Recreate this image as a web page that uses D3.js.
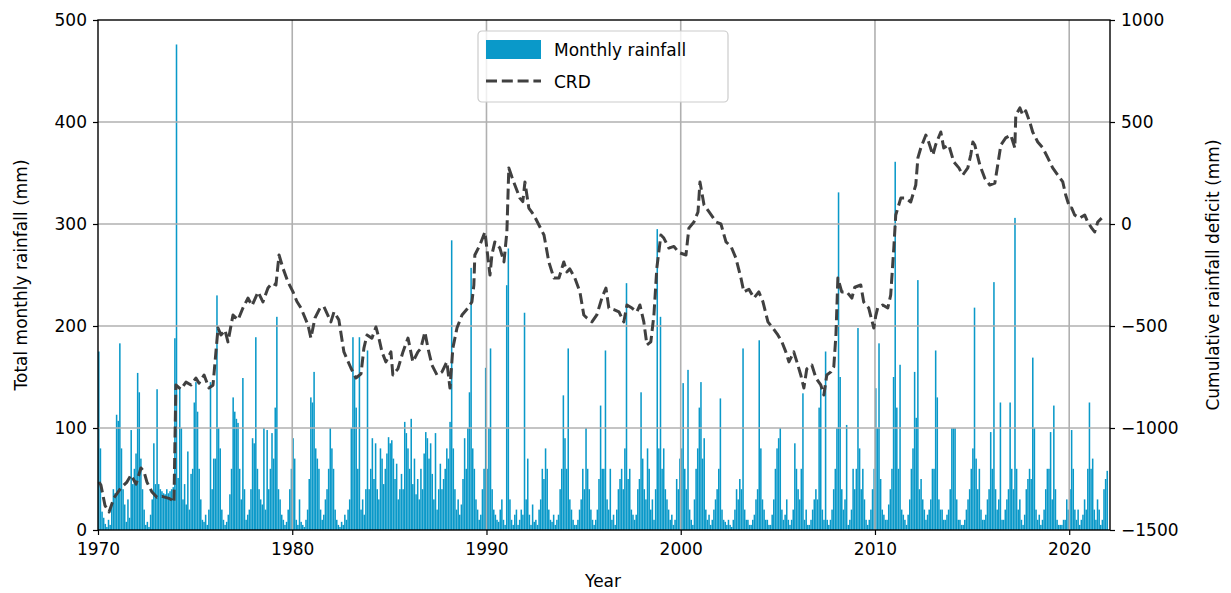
<!DOCTYPE html>
<html>
<head>
    <meta charset="utf-8">
    <title>Monthly rainfall and CRD</title>
    <script src="https://cdn.jsdelivr.net/npm/d3@7/dist/d3.min.js"></script>
    <style>
        body { margin: 0; background: #fff; }
        text { font-family: "DejaVu Sans", sans-serif; }
    </style>
</head>
<body>
<div id="chart"></div>
<script type="text/javascript">
    // first year of the monthly series (Jan 1970 .. Dec 2021)
    var startYear = 1970;

    // monthly rainfall (mm), one row per year, Jan..Dec
    var rainfall = [
        175, 80, 18, 12, 6, 3, 10, 5, 25, 40, 36, 113,      // 1970
        107, 183, 80, 40, 25, 8, 30, 12, 98, 45, 60, 75,    // 1971
        154, 135, 70, 40, 20, 5, 8, 3, 15, 30, 85, 45,      // 1972
        138, 45, 40, 38, 36, 35, 40, 36, 38, 40, 42, 188,   // 1973
        476, 51, 139, 100, 30, 45, 25, 77, 20, 55, 60, 125, // 1974
        145, 116, 60, 30, 10, 8, 15, 5, 20, 145, 40, 70,    // 1975
        70, 230, 100, 80, 20, 10, 5, 8, 15, 35, 60, 130,    // 1976
        116, 109, 105, 60, 30, 149, 40, 10, 15, 20, 40, 90, // 1977
        85, 189, 60, 40, 30, 25, 100, 20, 98, 40, 60, 95,   // 1978
        70, 120, 209, 40, 30, 15, 10, 5, 8, 20, 40, 60,     // 1979
        90, 70, 10, 5, 30, 8, 5, 3, 10, 20, 50, 130,        // 1980
        125, 155, 80, 70, 60, 20, 10, 15, 30, 40, 60, 100,  // 1981
        80, 60, 20, 10, 5, 3, 8, 5, 15, 10, 20, 30,         // 1982
        100, 189, 150, 120, 60, 189, 20, 30, 15, 40, 176, 40, // 1983
        60, 90, 50, 85, 40, 30, 80, 70, 45, 60, 75, 91,     // 1984
        85, 88, 70, 50, 65, 30, 40, 55, 40, 106, 95, 80,    // 1985
        60, 109, 45, 70, 35, 50, 30, 60, 40, 75, 96, 90,    // 1986
        70, 85, 55, 30, 95, 20, 40, 65, 40, 50, 60, 80,     // 1987
        70, 106, 284, 80, 40, 20, 30, 15, 25, 50, 90, 60,   // 1988
        100, 135, 257, 80, 60, 30, 20, 10, 15, 40, 60, 159, // 1989
        60, 100, 178, 40, 20, 15, 10, 8, 20, 30, 10, 5,     // 1990
        240, 276, 30, 10, 5, 15, 20, 5, 10, 20, 15, 213,    // 1991
        30, 70, 15, 5, 25, 8, 10, 5, 20, 30, 60, 50,        // 1992
        80, 60, 20, 10, 8, 15, 5, 10, 15, 40, 60, 132,      // 1993
        90, 60, 178, 30, 20, 10, 5, 5, 10, 20, 30, 60,      // 1994
        40, 100, 60, 40, 20, 10, 5, 10, 20, 50, 122, 60,    // 1995
        60, 176, 30, 20, 60, 10, 15, 5, 20, 40, 50, 60,     // 1996
        40, 80, 242, 50, 60, 20, 15, 10, 15, 40, 50, 135,   // 1997
        70, 40, 30, 80, 60, 20, 30, 10, 40, 295, 80, 209,   // 1998
        60, 80, 40, 30, 20, 10, 15, 5, 10, 50, 40, 70,      // 1999
        80, 144, 60, 40, 157, 20, 10, 5, 30, 60, 80, 120,   // 2000
        145, 70, 90, 20, 10, 15, 5, 10, 20, 30, 40, 60,     // 2001
        129, 20, 10, 8, 5, 10, 5, 3, 10, 20, 40, 30,        // 2002
        50, 40, 178, 20, 10, 10, 5, 5, 10, 15, 30, 40,      // 2003
        186, 80, 30, 20, 10, 10, 5, 5, 15, 30, 60, 80,      // 2004
        90, 100, 20, 10, 15, 30, 10, 5, 10, 20, 85, 60,     // 2005
        40, 30, 60, 134, 10, 20, 5, 5, 10, 20, 30, 40,      // 2006
        30, 120, 139, 20, 10, 175, 10, 5, 10, 20, 40, 60,   // 2007
        100, 331, 150, 40, 20, 30, 103, 5, 10, 20, 60, 40,  // 2008
        60, 198, 80, 40, 60, 30, 10, 5, 10, 20, 40, 60,     // 2009
        139, 100, 183, 50, 20, 15, 10, 10, 25, 40, 60, 150, // 2010
        361, 120, 60, 162, 20, 15, 10, 5, 15, 30, 60, 80,   // 2011
        155, 110, 245, 40, 50, 30, 20, 10, 15, 20, 30, 60,  // 2012
        60, 176, 130, 30, 20, 20, 10, 10, 15, 20, 40, 100,  // 2013
        100, 100, 30, 10, 10, 5, 5, 10, 20, 30, 40, 60,     // 2014
        80, 218, 70, 40, 60, 20, 10, 10, 15, 30, 40, 96,    // 2015
        60, 243, 40, 20, 30, 125, 10, 10, 20, 30, 40, 125,  // 2016
        60, 40, 306, 60, 20, 30, 10, 5, 15, 40, 50, 60,     // 2017
        50, 169, 100, 20, 10, 15, 5, 10, 20, 40, 60, 60,    // 2018
        96, 30, 122, 40, 10, 5, 5, 5, 10, 10, 30, 20,       // 2019
        40, 98, 60, 20, 10, 20, 5, 10, 15, 30, 20, 60,      // 2020
        125, 60, 70, 20, 10, 30, 20, 5, 10, 40, 50, 58      // 2021
    ];

    // cumulative rainfall deficit (mm)
    var crdYear = [
        1970.05, 1970.15, 1970.36, 1970.57, 1970.82, 1971.18, 1971.49, 1971.70, 1971.96, 1972.21,
        1972.37, 1972.52, 1972.78, 1973.04, 1973.29, 1973.65, 1973.81, 1973.91, 1974.01, 1974.27,
        1974.53, 1974.79, 1975.04, 1975.20, 1975.46, 1975.71, 1975.92, 1976.18, 1976.33, 1976.54,
        1976.69, 1976.95, 1977.21, 1977.46, 1977.72, 1977.93, 1978.24, 1978.49, 1978.75, 1978.96,
        1979.16, 1979.32, 1979.52, 1979.78, 1980.04, 1980.24, 1980.45, 1980.81, 1980.96, 1981.17,
        1981.43, 1981.63, 1981.99, 1982.15, 1982.40, 1982.66, 1983.02, 1983.28, 1983.54, 1983.69,
        1983.85, 1984.10, 1984.31, 1984.46, 1984.62, 1984.82, 1985.08, 1985.18, 1985.44, 1985.70,
        1985.96, 1986.21, 1986.47, 1986.62, 1986.83, 1986.99, 1987.19, 1987.45, 1987.71, 1987.96,
        1988.12, 1988.27, 1988.48, 1988.74, 1989.04, 1989.25, 1989.35, 1989.40, 1989.66, 1989.92,
        1990.18, 1990.28, 1990.43, 1990.69, 1990.90, 1991.05, 1991.15, 1991.31, 1991.46, 1991.72,
        1991.87, 1991.98, 1992.18, 1992.44, 1992.70, 1992.96, 1993.21, 1993.47, 1993.73, 1993.98,
        1994.14, 1994.29, 1994.55, 1994.81, 1995.01, 1995.17, 1995.43, 1995.68, 1995.94, 1996.15,
        1996.30, 1996.56, 1996.82, 1997.07, 1997.23, 1997.49, 1997.74, 1997.90, 1998.10, 1998.26,
        1998.46, 1998.62, 1998.77, 1998.98, 1999.13, 1999.39, 1999.65, 1999.91, 2000.27, 2000.42,
        2000.68, 2000.89, 2000.99, 2001.20, 2001.46, 2001.82, 2002.07, 2002.33, 2002.59, 2002.84,
        2003.10, 2003.25, 2003.51, 2003.77, 2004.02, 2004.23, 2004.49, 2004.74, 2005.00, 2005.21,
        2005.41, 2005.57, 2005.82, 2005.98, 2006.18, 2006.34, 2006.49, 2006.75, 2006.96, 2007.21,
        2007.37, 2007.52, 2007.73, 2007.88, 2007.99, 2008.09, 2008.29, 2008.55, 2008.81, 2008.96,
        2009.27, 2009.42, 2009.68, 2009.94, 2010.04, 2010.14, 2010.40, 2010.66, 2010.81, 2010.97,
        2011.07, 2011.33, 2011.59, 2011.84, 2012.10, 2012.21, 2012.36, 2012.62, 2012.77, 2012.98,
        2013.13, 2013.39, 2013.54, 2013.80, 2014.06, 2014.32, 2014.52, 2014.78, 2014.93, 2015.04,
        2015.14, 2015.40, 2015.65, 2015.91, 2016.17, 2016.32, 2016.48, 2016.73, 2016.99, 2017.20,
        2017.25, 2017.46, 2017.61, 2017.76, 2017.97, 2018.12, 2018.38, 2018.64, 2018.90, 2019.15,
        2019.41, 2019.67, 2019.82, 2020.03, 2020.13, 2020.28, 2020.54, 2020.80, 2020.95, 2021.16,
        2021.31, 2021.47, 2021.67
    ];
    var crdValue = [
        -1265, -1280, -1380, -1412, -1343, -1294, -1265, -1230, -1275, -1196,
        -1215, -1265, -1314, -1340, -1335, -1345, -1353, -1365, -789, -810,
        -775, -789, -755, -780, -740, -804, -790, -510, -544, -520,
        -578, -446, -470, -412, -363, -400, -333, -382, -314, -290,
        -299, -152, -216, -284, -333, -380, -412, -495, -559, -461,
        -412, -405, -480, -431, -470, -627, -706, -755, -735, -608,
        -544, -560, -505, -559, -627, -676, -627, -740, -710, -627,
        -559, -676, -627, -610, -529, -610, -691, -740, -725, -676,
        -804, -608, -510, -446, -412, -382, -300, -152, -103, -39,
        -250, -150, -88, -118, -186, -39, 275, 230, 191, 127,
        110, 206, 78, 44, -5, -54, -186, -265, -265, -186,
        -235, -220, -265, -333, -446, -461, -480, -446, -363, -314,
        -412, -420, -431, -480, -397, -412, -431, -397, -480, -593,
        -578, -446, -216, -54, -69, -118, -110, -140, -152, -20,
        10, 59, 206, 93, 59, 10, 0, -88, -110, -167,
        -265, -333, -320, -363, -333, -380, -480, -510, -544, -578,
        -627, -676, -627, -676, -740, -804, -710, -691, -755, -789,
        -838, -740, -725, -700, -544, -265, -333, -333, -363, -310,
        -299, -382, -412, -510, -450, -412, -397, -412, -348, -118,
        44, 127, 127, 108, 191, 324, 373, 436, 400, 338,
        390, 451, 373, 387, 304, 275, 240, 275, 338, 402,
        387, 289, 225, 191, 200, 289, 387, 422, 436, 373,
        534, 569, 534, 555, 500, 451, 402, 373, 324, 275,
        240, 206, 142, 78, 78, 44, 29, 44, 10, -20,
        -39, 10, 29
    ];

    var leftTicks = [0, 100, 200, 300, 400, 500];
    var rightTicks = [-1500, -1000, -500, 0, 500, 1000];
    var yearTicks = [1970, 1980, 1990, 2000, 2010, 2020];

    var width = 1231, height = 593;
    var margin = {left: 98, right: 121, top: 20, bottom: 63};
    var plotW = width - margin.left - margin.right;
    var plotH = height - margin.top - margin.bottom;

    var x = d3.scaleLinear().domain([1970, 2022.1]).range([0, plotW]);
    var yL = d3.scaleLinear().domain([0, 500]).range([plotH, 0]);
    var yR = d3.scaleLinear().domain([-1500, 1000]).range([plotH, 0]);

    var svg = d3.select("#chart").append("svg")
        .attr("width", width)
        .attr("height", height);
    var g = svg.append("g")
        .attr("transform", "translate(" + margin.left + "," + margin.top + ")");

    var defs = svg.append("defs");
    defs.append("clipPath").attr("id", "plotClip")
        .append("rect").attr("width", plotW).attr("height", plotH);

    // bars
    var months = rainfall.map(function (v, i) {
        return {t: startYear + i / 12 + 0.5 / 12, v: v};
    });
    var barW = (x(1970 + 1 / 12) - x(1970)) * 0.95;
    g.append("g").attr("clip-path", "url(#plotClip)")
        .selectAll("rect").data(months).enter().append("rect")
        .attr("x", function (d) { return x(d.t) - barW / 2; })
        .attr("y", function (d) { return yL(d.v); })
        .attr("width", barW)
        .attr("height", function (d) { return plotH - yL(d.v); })
        .attr("fill", "#0a99c9");

    // grid (matplotlib draws it above the bars)
    var grid = g.append("g").attr("stroke", "#b0b0b0").attr("stroke-width", 1.6);
    grid.selectAll("line.h").data(leftTicks.slice(1, 5)).enter().append("line")
        .attr("x1", 0).attr("x2", plotW)
        .attr("y1", function (d) { return yL(d); })
        .attr("y2", function (d) { return yL(d); });
    grid.selectAll("line.v").data(yearTicks.slice(1)).enter().append("line")
        .attr("y1", 0).attr("y2", plotH)
        .attr("x1", function (d) { return x(d); })
        .attr("x2", function (d) { return x(d); });

    // CRD line
    var crd = crdYear.map(function (t, i) { return {t: t, v: crdValue[i]}; });
    var line = d3.line()
        .x(function (d) { return x(d.t); })
        .y(function (d) { return yR(d.v); });
    g.append("path").datum(crd)
        .attr("d", line)
        .attr("fill", "none")
        .attr("stroke", "#404040")
        .attr("stroke-width", 3)
        .attr("stroke-dasharray", "11,4.8")
        .attr("stroke-linejoin", "round");

    // axes
    var fmt = function (d) { return String(d).replace("-", "\u2212"); };
    var axL = g.append("g").call(d3.axisLeft(yL).tickValues(leftTicks).tickSize(5).tickPadding(6));
    var axR = g.append("g").attr("transform", "translate(" + plotW + ",0)")
        .call(d3.axisRight(yR).tickValues(rightTicks).tickFormat(fmt).tickSize(5).tickPadding(6));
    var axB = g.append("g").attr("transform", "translate(0," + plotH + ")")
        .call(d3.axisBottom(x).tickValues(yearTicks).tickFormat(d3.format("d")).tickSize(5).tickPadding(6));
    [axL, axR, axB].forEach(function (a) {
        a.select(".domain").remove();
        a.selectAll("line").attr("stroke", "#000").attr("stroke-width", 1.2);
        a.selectAll("text").attr("font-size", 17).attr("fill", "#000")
            .attr("font-family", "DejaVu Sans, sans-serif");
    });
    axB.selectAll("text").attr("dy", "0.8em");

    g.append("rect")
        .attr("width", plotW).attr("height", plotH)
        .attr("fill", "none").attr("stroke", "#000").attr("stroke-width", 1.4);

    // axis titles
    svg.append("text")
        .attr("transform", "translate(27," + (margin.top + plotH / 2) + ") rotate(-90)")
        .attr("text-anchor", "middle").attr("font-size", 17)
        .text("Total monthly rainfall (mm)");
    svg.append("text")
        .attr("transform", "translate(1219," + (margin.top + plotH / 2) + ") rotate(-90)")
        .attr("text-anchor", "middle").attr("font-size", 17)
        .text("Cumulative rainfall deficit (mm)");
    svg.append("text")
        .attr("x", margin.left + x(1996)).attr("y", 587)
        .attr("text-anchor", "middle").attr("font-size", 17)
        .text("Year");

    // legend
    var lg = svg.append("g").attr("transform", "translate(478,31)");
    lg.append("rect")
        .attr("width", 250).attr("height", 71).attr("rx", 4)
        .attr("fill", "#fff").attr("fill-opacity", 0.8)
        .attr("stroke", "#cccccc").attr("stroke-width", 1.2);
    lg.append("rect").attr("x", 8).attr("y", 9).attr("width", 55).attr("height", 19)
        .attr("fill", "#0a99c9");
    lg.append("text").attr("x", 76).attr("y", 25).attr("font-size", 17).text("Monthly rainfall");
    lg.append("line").attr("x1", 8).attr("x2", 63).attr("y1", 50).attr("y2", 50)
        .attr("stroke", "#404040").attr("stroke-width", 3).attr("stroke-dasharray", "11,4.8");
    lg.append("text").attr("x", 76).attr("y", 57).attr("font-size", 17).text("CRD");
</script>
</body>
</html>
